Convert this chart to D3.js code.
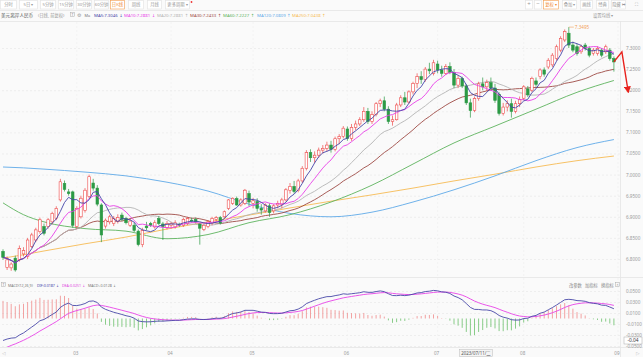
<!DOCTYPE html>
<html><head><meta charset="utf-8">
<script src="https://cdn.jsdelivr.net/npm/d3@7"></script>
<style>
html,body{margin:0;padding:0;background:#fafafa;}
svg{display:block;font-family:"Noto Sans","Noto Sans CJK SC",sans-serif;}
</style></head><body><svg id="c" width="643" height="357"></svg>
<script>
// ---------- data ----------
const openP=[6.818,6.780,6.779,6.802,6.798,6.812,6.806,6.830,6.845,6.865,6.877,6.877,6.888,6.896,6.940,6.979,6.959,6.959,
6.877,6.900,6.915,6.948,6.980,6.968,6.928,6.878,6.888,6.884,6.890,6.904,6.896,6.880,6.880,6.866,6.834,6.878,6.884,6.876,6.896,6.883,6.874,
6.880,6.876,6.882,6.880,6.884,6.892,6.894,6.883,6.870,6.877,6.885,6.894,6.898,6.900,6.920,6.932,6.943,6.928,6.932,6.955,
6.932,6.936,6.920,6.914,6.926,6.914,6.928,6.930,6.940,6.962,6.972,6.962,6.985,7.015,7.052,7.040,7.046,7.058,7.062,7.070,7.060,7.085,7.090,
7.108,7.086,7.112,7.120,7.130,7.150,7.126,7.142,7.168,7.175,7.155,7.126,7.130,7.165,7.182,7.172,7.196,7.216,7.232,7.225,7.250,7.240,
7.262,7.248,7.240,7.256,7.242,7.212,7.228,7.210,7.170,7.152,7.180,7.215,7.208,7.218,7.205,7.190,7.145,7.160,7.168,7.150,7.168,
7.181,7.203,7.200,7.222,7.232,7.248,7.255,7.260,7.275,7.295,7.319,7.335,7.307,7.303,7.291,7.307,7.299,7.287,7.287,7.295,7.291,7.295,7.275];
const highP=[6.823,6.806,6.792,6.808,6.832,6.828,6.850,6.862,6.874,6.898,6.884,6.897,6.912,6.925,6.990,6.986,6.966,6.962,
6.925,6.950,6.968,7.000,6.990,6.975,6.932,6.896,6.905,6.902,6.906,6.910,6.900,6.896,6.886,6.870,6.874,6.888,6.888,6.892,6.902,6.888,6.890,
6.888,6.892,6.886,6.898,6.900,6.898,6.898,6.886,6.884,6.892,6.900,6.902,6.902,6.915,6.942,6.946,6.948,6.944,6.966,6.962,
6.945,6.944,6.930,6.932,6.932,6.930,6.938,6.945,6.968,6.980,6.985,6.990,7.020,7.058,7.060,7.055,7.064,7.070,7.078,7.080,7.090,7.096,7.115,
7.114,7.120,7.128,7.136,7.160,7.158,7.150,7.172,7.180,7.185,7.162,7.140,7.170,7.188,7.196,7.200,7.220,7.240,7.245,7.255,7.265,7.272,
7.270,7.258,7.262,7.266,7.250,7.236,7.232,7.215,7.180,7.185,7.220,7.230,7.225,7.230,7.215,7.195,7.170,7.176,7.180,7.175,7.185,
7.212,7.210,7.232,7.230,7.252,7.254,7.276,7.288,7.308,7.328,7.344,7.3495,7.315,7.310,7.308,7.312,7.304,7.300,7.304,7.300,7.308,7.300,7.280];
const lowP=[6.798,6.774,6.772,6.770,6.794,6.806,6.800,6.826,6.840,6.860,6.856,6.872,6.882,6.892,6.936,6.960,6.950,6.874,
6.872,6.896,6.910,6.944,6.962,6.925,6.840,6.872,6.882,6.878,6.884,6.890,6.882,6.876,6.864,6.830,6.828,6.868,6.876,6.872,6.880,6.845,6.870,
6.872,6.872,6.876,6.876,6.880,6.886,6.884,6.834,6.866,6.873,6.880,6.888,6.882,6.896,6.916,6.928,6.926,6.924,6.928,6.925,
6.920,6.912,6.905,6.910,6.900,6.908,6.920,6.920,6.936,6.955,6.955,6.958,6.980,7.010,7.030,7.028,7.040,7.050,7.055,7.052,7.055,7.072,7.086,
7.080,7.080,7.105,7.115,7.125,7.120,7.120,7.138,7.160,7.150,7.120,7.116,7.128,7.160,7.165,7.168,7.190,7.205,7.215,7.220,7.238,7.235,
7.240,7.232,7.236,7.238,7.205,7.205,7.205,7.165,7.135,7.148,7.175,7.200,7.198,7.200,7.170,7.140,7.140,7.150,7.135,7.145,7.160,
7.176,7.184,7.195,7.208,7.226,7.232,7.250,7.255,7.270,7.290,7.314,7.300,7.290,7.282,7.286,7.294,7.278,7.282,7.282,7.278,7.286,7.270,7.244];
const closeP=[6.804,6.798,6.788,6.774,6.825,6.820,6.845,6.857,6.869,6.893,6.861,6.893,6.908,6.920,6.983,6.965,6.955,6.880,
6.920,6.944,6.963,6.995,6.968,6.930,6.857,6.892,6.900,6.896,6.898,6.894,6.886,6.890,6.868,6.834,6.868,6.874,6.880,6.886,6.884,6.877,6.884,
6.884,6.886,6.880,6.894,6.896,6.890,6.888,6.873,6.880,6.888,6.896,6.898,6.885,6.912,6.940,6.944,6.928,6.940,6.963,6.935,
6.938,6.920,6.916,6.928,6.910,6.926,6.932,6.940,6.964,6.972,6.960,6.985,7.015,7.052,7.040,7.046,7.058,7.062,7.070,7.060,7.085,7.090,7.110,
7.086,7.112,7.120,7.130,7.150,7.126,7.142,7.168,7.175,7.155,7.126,7.130,7.165,7.182,7.172,7.196,7.216,7.232,7.225,7.250,7.246,7.265,
7.248,7.240,7.256,7.242,7.212,7.228,7.210,7.170,7.152,7.180,7.215,7.208,7.218,7.205,7.176,7.145,7.160,7.168,7.150,7.168,7.178,
7.208,7.189,7.228,7.214,7.248,7.238,7.271,7.283,7.303,7.323,7.339,7.307,7.295,7.287,7.303,7.299,7.283,7.295,7.299,7.283,7.303,7.275,7.267];

// long moving averages read at sample candles
const maSampleIdx=[0,5,10,20,30,40,50,60,70,80,90,100,110,120,130,140,149];
const ma60 =[6.933,6.905,6.888,6.872,6.866,6.848,6.858,6.886,6.905,6.935,6.975,7.025,7.075,7.115,7.155,7.195,7.223];
const ma120=[7.018,7.016,7.013,7.006,6.997,6.982,6.961,6.930,6.908,6.900,6.911,6.935,6.964,6.997,7.033,7.064,7.083];
const ma250=[6.802,6.810,6.819,6.836,6.852,6.871,6.888,6.904,6.921,6.937,6.952,6.968,6.985,7.001,7.018,7.033,7.044];

// MACD starting state (read at the left edge)
const ema12Start=6.802, ema26Start=6.842, deaStart=-0.056;

const priceTicks=[7.30,7.25,7.20,7.15,7.10,7.05,7.00,6.95,6.90,6.85,6.80];
const macdTicks=[0.05,0.03,0.01,-0.01,-0.03,-0.05];
const monthLabels=["03","04","05","06","07","08","09"];
const maHeader=[["MA5:7.3046","↓"],["MA10:7.2881","↓"],["MA20:7.2881","↑"],["MA30:7.2433","↑"],["MA60:7.2227","↑"],["MA120:7.0809","↑"],["MA250:7.0438","↑"]];
const maHeaderX=[94,124,157,190,223,257,292];
const macdHeader=[["MACD(12,26,9)",""],["DIF:0.0187","↓"],["DEA:0.0251","↓"],["MACD:-0.0128","↓"]];
const macdHeaderX=[8,37,62,88];
const toolbarLeft=["分时","5日 ▾","5分钟","15分钟","30分钟","60分钟","日K线","周线","月线","更多周期 ▾"];
const toolbarRight=["+","−","复权 ▾","叠加 ▾","画线","经典","隐藏 ↦","⛶"];

// ---------- drawing ----------
const svg=d3.select("#c");
const W=643,H=357;
const dates=d3.timeDay.range(new Date(2023,1,3),new Date(2023,8,1)).filter(d=>d.getDay()!==0&&d.getDay()!==6);
const N=closeP.length;
const x=d3.scaleLinear().domain([0,150]).range([3,618]);
const yP=d3.scaleLinear().domain([6.80,7.30]).range([259,48]);
const yM=d3.scaleLinear().domain([-0.05,0.05]).range([346,291]);
const C={ma5:"#4444a8",ma10:"#e83ee8",ma20:"#b4b4b4",ma30:"#9e4b45",ma60:"#5db35d",ma120:"#5fa9e8",ma250:"#f6bb55",
 up:"#ee4a4a",down:"#2c9a45",txt:"#999"};
const maColors=[C.ma5,C.ma10,C.ma20,C.ma30,C.ma60,C.ma120,C.ma250];
const macdColors=["#777","#3e3ea8","#e040e0","#777"];

svg.append("rect").attr("width",W).attr("height",H).attr("fill","#fafafa");

const defs=svg.append("defs");
defs.append("clipPath").attr("id","cm").append("rect").attr("x",0).attr("y",22).attr("width",620).attr("height",254);
defs.append("clipPath").attr("id","cd").append("rect").attr("x",0).attr("y",289).attr("width",620).attr("height",58);
defs.append("marker").attr("id","ah").attr("viewBox","0 0 10 10").attr("refX",5).attr("refY",5)
 .attr("markerWidth",5).attr("markerHeight",5).attr("orient","auto")
 .append("path").attr("d","M0,0L10,5L0,10z").attr("fill","#e8211c");

// frame lines
const fr=svg.append("g").attr("stroke","#e4e4e4").attr("stroke-width",0.8);
fr.append("line").attr("x1",0).attr("x2",W).attr("y1",10.5).attr("y2",10.5);
fr.append("line").attr("x1",0).attr("x2",W).attr("y1",21.5).attr("y2",21.5);
fr.append("line").attr("x1",0).attr("x2",W).attr("y1",277.5).attr("y2",277.5);
fr.append("line").attr("x1",0).attr("x2",W).attr("y1",347.5).attr("y2",347.5);
fr.append("line").attr("x1",620.5).attr("x2",620.5).attr("y1",21).attr("y2",357);

// grids
const gridG=svg.append("g").attr("transform","translate(620,0)")
 .call(d3.axisLeft(yP).tickValues(priceTicks).tickSize(620).tickFormat(""));
gridG.select(".domain").remove();
gridG.selectAll("line").attr("stroke","#e6e6e6").attr("stroke-dasharray","2,2").attr("stroke-width",0.6);
const gridM=svg.append("g").attr("transform","translate(620,0)")
 .call(d3.axisLeft(yM).tickValues(macdTicks).tickSize(620).tickFormat(""));
gridM.select(".domain").remove();
gridM.selectAll("line").attr("stroke","#e6e6e6").attr("stroke-dasharray","2,2").attr("stroke-width",0.6);

// month index from dates
const monthIdx=monthLabels.map(m=>{const k=dates.findIndex(d=>d3.timeFormat("%m")(d)===m);return k<0?dates.length:k;});
svg.append("g").selectAll("line").data(monthIdx).join("line")
 .attr("x1",d=>x(d)).attr("x2",d=>x(d)).attr("y1",22).attr("y2",347)
 .attr("stroke","#eeeeee").attr("stroke-dasharray","2,2").attr("stroke-width",0.6);

// y axis labels
const axP=svg.append("g").attr("transform","translate(623,0)")
 .call(d3.axisRight(yP).tickValues(priceTicks).tickSize(0).tickPadding(3).tickFormat(d3.format(".4f")));
axP.select(".domain").remove();
axP.selectAll("text").attr("font-size",4.6).attr("fill",C.txt).attr("font-family","Noto Sans");
const axM=svg.append("g").attr("transform","translate(623,0)")
 .call(d3.axisRight(yM).tickValues(macdTicks).tickSize(0).tickPadding(3).tickFormat(d3.format(".4f")));
axM.select(".domain").remove();
axM.selectAll("text").attr("font-size",4.6).attr("fill",C.txt).attr("font-family","Noto Sans").text(function(){return this.textContent.replace("−","-");});
// crosshair value box
svg.append("rect").attr("x",624).attr("y",yM(-0.04)-3.5).attr("width",18).attr("height",7).attr("fill","#fff").attr("stroke","#aaa").attr("stroke-width",0.5);
svg.append("text").attr("x",633).attr("y",yM(-0.04)+1.7).attr("text-anchor","middle").attr("font-size",4.8).attr("fill","#333").text("-0.04");

// moving averages
function maN(n){return closeP.map((c,i)=>d3.mean(closeP.slice(Math.max(0,i-n+1),i+1)));}
const idxs=d3.range(N);
const lineIdx=d3.line().x((d,i)=>x(i)).y(d=>yP(d));
const lineS=d3.line().curve(d3.curveMonotoneX).x(d=>x(d[0])).y(d=>yP(d[1]));
const mg=svg.append("g").attr("clip-path","url(#cm)").attr("fill","none").attr("stroke-width",0.9);
mg.append("path").attr("d",lineS(maSampleIdx.map((k,j)=>[k,ma250[j]]))).attr("stroke",C.ma250);
mg.append("path").attr("d",lineS(maSampleIdx.map((k,j)=>[k,ma120[j]]))).attr("stroke",C.ma120);
mg.append("path").attr("d",lineS(maSampleIdx.map((k,j)=>[k,ma60[j]]))).attr("stroke",C.ma60);
mg.append("path").attr("d",lineIdx(maN(30))).attr("stroke",C.ma30);
mg.append("path").attr("d",lineIdx(maN(20))).attr("stroke",C.ma20);

// candles
const cg=svg.append("g").attr("clip-path","url(#cm)");
const cd=cg.selectAll("g").data(idxs).join("g");
const isUp=i=>closeP[i]>=openP[i];
cd.append("line").attr("x1",i=>x(i)).attr("x2",i=>x(i)).attr("y1",i=>yP(highP[i])).attr("y2",i=>yP(lowP[i]))
 .attr("stroke",i=>isUp(i)?C.up:C.down).attr("stroke-width",0.7);
cd.append("rect").attr("x",i=>x(i)-1.3).attr("width",2.6)
 .attr("y",i=>yP(Math.max(openP[i],closeP[i])))
 .attr("height",i=>Math.max(0.7,Math.abs(yP(openP[i])-yP(closeP[i]))))
 .attr("fill",i=>isUp(i)?"#fff":C.down).attr("stroke",i=>isUp(i)?C.up:C.down).attr("stroke-width",0.6);

const mg2=svg.append("g").attr("clip-path","url(#cm)").attr("fill","none").attr("stroke-width",0.9);
mg2.append("path").attr("d",lineIdx(maN(10))).attr("stroke",C.ma10);
mg2.append("path").attr("d",lineIdx(maN(5))).attr("stroke",C.ma5);

// high annotation
const hi=d3.maxIndex(highP);
svg.append("path").attr("d",`M${x(hi)},${yP(highP[hi])}L${x(hi)+5},${yP(highP[hi])}`).attr("stroke","#f2a15c").attr("stroke-width",0.6).attr("fill","none");
svg.append("text").attr("x",x(hi)+6).attr("y",yP(highP[hi])+1.6).attr("font-size",4.6).attr("fill","#f2a15c").text("7.3495");

// red arrow
const last=N-1;
svg.append("path").attr("d",`M${x(last)},${yP(closeP[last])}L${x(last)+8},${yP(closeP[last])-10}L${x(last)+14},${yP(closeP[last])+28}`)
 .attr("fill","none").attr("stroke","#e8211c").attr("stroke-width",1.4).attr("marker-end","url(#ah)");

// MACD
let e12=ema12Start,e26=ema26Start,dea=deaStart;
const difA=[],deaA=[],barA=[];
closeP.forEach((c,i)=>{
 if(i>0){e12+= (c-e12)*2/13; e26+=(c-e26)*2/27;}
 const dif=e12-e26;
 if(i>0) dea+=(dif-dea)*0.2;
 difA.push(dif);deaA.push(dea);barA.push(2*(dif-dea));
});
const dg=svg.append("g").attr("clip-path","url(#cd)");
dg.selectAll("line").data(idxs).join("line")
 .attr("x1",i=>x(i)).attr("x2",i=>x(i)).attr("y1",yM(0)).attr("y2",i=>yM(barA[i]))
 .attr("stroke",i=>barA[i]>=0?"#f08c8c":"#6cc06c").attr("stroke-width",0.8);
dg.append("path").attr("d",d3.line().x((d,i)=>x(i)).y(d=>yM(d))(deaA)).attr("fill","none").attr("stroke","#e843e8").attr("stroke-width",0.9);
dg.append("path").attr("d",d3.line().x((d,i)=>x(i)).y(d=>yM(d))(difA)).attr("fill","none").attr("stroke","#4848a8").attr("stroke-width",0.9);

// ---------- texts ----------
const fs=4.3;
const tlX=[[0,17],[19,38],[40,56],[58,74],[76,92],[94,109],[110,125],[128,144],[147,162],[165,190]];
toolbarLeft.forEach((t,k)=>{
 const [a,b]=tlX[k]; const sel=k===6;
 svg.append("rect").attr("x",a+0.5).attr("y",0.5).attr("width",b-a-1).attr("height",8.5)
  .attr("fill","#fff").attr("stroke",sel?"#f39c4b":"#e2e2e2").attr("stroke-width",0.6);
 svg.append("text").attr("x",(a+b)/2).attr("y",6.2).attr("text-anchor","middle").attr("font-size",fs)
  .attr("fill",sel?"#f08a30":"#999").text(t);
});
svg.append("circle").attr("cx",191.5).attr("cy",2).attr("r",0.9).attr("fill","#e33");
const trX=[[525,533],[534,542],[543,559],[562,577],[580,593],[596,609],[611,626],[632,641]];
toolbarRight.forEach((t,k)=>{
 const [a,b]=trX[k]; const sel=k===2;
 if(k<7) svg.append("rect").attr("x",a+0.5).attr("y",0.5).attr("width",b-a-1).attr("height",8.5)
  .attr("fill","#fff").attr("stroke",sel?"#f39c4b":"#e2e2e2").attr("stroke-width",0.6);
 svg.append("text").attr("x",(a+b)/2).attr("y",6.2).attr("text-anchor","middle").attr("font-size",k<2?6:fs)
  .attr("fill",sel?"#f08a30":"#999").text(t);
});
svg.append("text").attr("x",1).attr("y",16.5).attr("font-size",4.6).attr("fill","#555").text("美元离岸人民币");
svg.append("text").attr("x",38).attr("y",16.5).attr("font-size",fs).attr("fill","#999").text("(日线, 前复权)");
svg.append("rect").attr("x",70.5).attr("y",12.5).attr("width",4).attr("height",4).attr("fill","none").attr("stroke","#aaa").attr("stroke-width",0.5);
svg.append("text").attr("x",72.5).attr("y",15.9).attr("text-anchor","middle").attr("font-size",3.5).attr("fill","#888").text("T");
svg.append("text").attr("x",77).attr("y",16.6).attr("font-size",5).attr("fill","#999").attr("font-family","DejaVu Sans").text("⚙");
svg.append("text").attr("x",84.5).attr("y",16.5).attr("font-size",3.8).attr("fill","#777").text("Ma");
maHeader.forEach((m,k)=>{
 const t=svg.append("text").attr("x",maHeaderX[k]).attr("y",16.5).attr("font-size",fs).attr("fill",maColors[k]);
 t.append("tspan").text(m[0]);
 t.append("tspan").attr("dx",1.5).attr("font-family","DejaVu Sans").text(m[1]);
});
svg.append("text").attr("x",593).attr("y",16.5).attr("font-size",fs).attr("fill","#999").text("设置均线 ▾");

// MACD header
svg.append("rect").attr("x",1.5).attr("y",282.5).attr("width",4).attr("height",4).attr("fill","none").attr("stroke","#aaa").attr("stroke-width",0.5);
svg.append("text").attr("x",3.5).attr("y",285.9).attr("text-anchor","middle").attr("font-size",3.5).attr("fill","#888").text("T");
macdHeader.forEach((m,k)=>{
 const t=svg.append("text").attr("x",macdHeaderX[k]).attr("y",286.5).attr("font-size",3.6).attr("fill",macdColors[k]);
 t.append("tspan").text(m[0]);
 if(m[1]) t.append("tspan").attr("dx",1.2).attr("font-family","DejaVu Sans").text(m[1]);
});
[["改参数",569],["加指标",585],["换指标",601]].forEach(([t,px])=>{
 svg.append("text").attr("x",px).attr("y",286.5).attr("font-size",fs).attr("fill","#888").text(t);
});
svg.append("rect").attr("x",615.5).attr("y",282.5).attr("width",4).attr("height",4).attr("fill","none").attr("stroke","#aaa").attr("stroke-width",0.5);
svg.append("text").attr("x",617.5).attr("y",285.9).attr("text-anchor","middle").attr("font-size",3.6).attr("fill","#888").text("×");

monthLabels.forEach((m,k)=>{
 svg.append("text").attr("x",x(monthIdx[k])-1).attr("y",354.5).attr("text-anchor","middle").attr("font-size",4.6).attr("fill",C.txt).text(m);
});
svg.append("text").attr("x",2).attr("y",354.5).attr("font-size",4.6).attr("fill","#bbb").attr("font-family","DejaVu Sans").text("◁");
svg.append("text").attr("x",636).attr("y",354.5).attr("font-size",4.6).attr("fill","#bbb").attr("font-family","DejaVu Sans").text("▷");
svg.append("rect").attr("x",459.5).attr("y",349.5).attr("width",33).attr("height",7).attr("fill","#f4f4f4").attr("stroke","#bbb").attr("stroke-width",0.5);
svg.append("text").attr("x",476).attr("y",354.8).attr("text-anchor","middle").attr("font-size",4.4).attr("fill","#555").text("2023/07/11/二");
</script></body></html>
